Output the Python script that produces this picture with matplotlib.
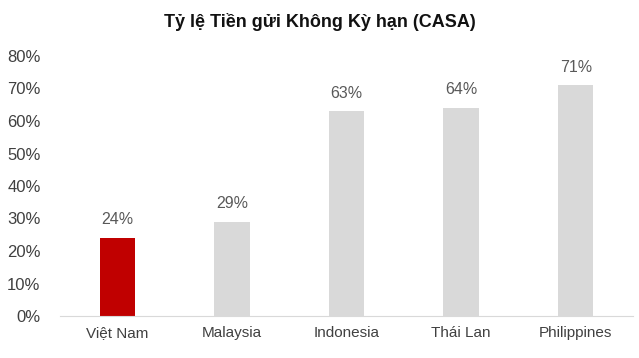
import matplotlib

matplotlib.use("Agg")
import matplotlib.pyplot as plt

countries = ["Việt Nam", "Malaysia", "Indonesia", "Thái Lan", "Philippines"]
casa = [24, 29, 63, 64, 71]
bar_colors = ["#C00000", "#D9D9D9", "#D9D9D9", "#D9D9D9", "#D9D9D9"]
yticks = [0, 10, 20, 30, 40, 50, 60, 70, 80]

plt.rcParams["font.family"] = ["Liberation Sans", "DejaVu Sans"]

fig = plt.figure(figsize=(6.39, 3.58), dpi=100)
ax = fig.add_axes([60 / 639, 42 / 358, 573 / 639, 260 / 358])

x = list(range(len(countries)))
ax.bar(x, casa, width=0.31, color=bar_colors)

for xi, v in zip(x, casa):
    ax.annotate(f"{v}%", (xi, v), xytext=(0, 13), textcoords="offset points",
                ha="center", va="center", fontsize=11.5, color="#595959")

ax.set_ylim(0, 80)
ax.set_xlim(-0.5, 4.5)
ax.set_yticks(yticks)
ax.set_yticklabels([f"{t}%" for t in yticks])
ax.set_xticks(x)
ax.set_xticklabels(countries)
ax.tick_params(axis="both", length=0, labelcolor="#404040")
ax.tick_params(axis="y", pad=14, labelsize=12)
ax.tick_params(axis="x", pad=7, labelsize=11)

for s in ["top", "right", "left"]:
    ax.spines[s].set_visible(False)
ax.spines["bottom"].set_color("#D9D9D9")

fig.text(0.5, 1 - 22 / 358, "Tỷ lệ Tiền gửi Không Kỳ hạn (CASA)", ha="center", va="center",
         fontsize=13, fontweight="bold", color="#111111")

fig.savefig("out.png", dpi=100)
